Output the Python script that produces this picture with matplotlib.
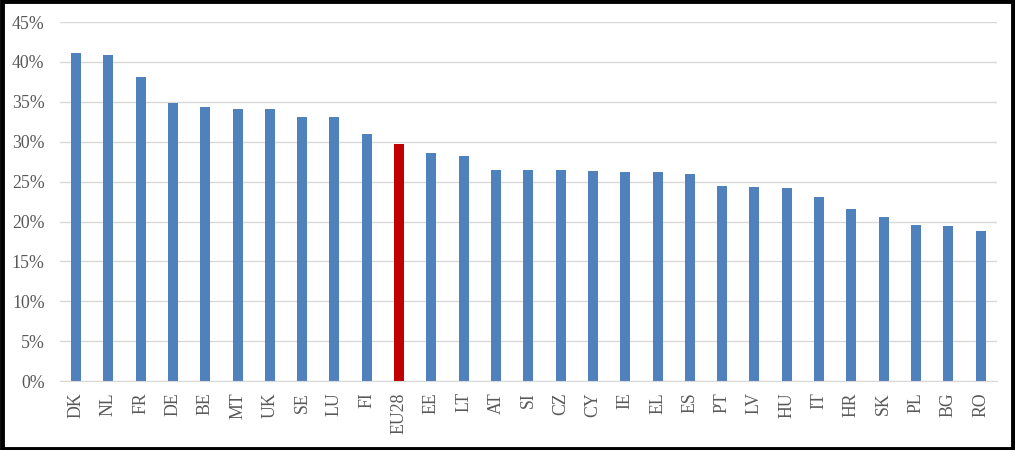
import numpy as np
import matplotlib.pyplot as plt
from matplotlib.patches import Rectangle
from matplotlib.ticker import FuncFormatter

countries = ['DK', 'NL', 'FR', 'DE', 'BE', 'MT', 'UK', 'SE', 'LU', 'FI', 'EU28',
             'EE', 'LT', 'AT', 'SI', 'CZ', 'CY', 'IE', 'EL', 'ES', 'PT', 'LV',
             'HU', 'IT', 'HR', 'SK', 'PL', 'BG', 'RO']
values = [41.1, 40.9, 38.1, 34.9, 34.3, 34.1, 34.1, 33.1, 33.1, 31.0, 29.7,
          28.6, 28.2, 26.4, 26.4, 26.4, 26.3, 26.2, 26.2, 25.9, 24.5, 24.3,
          24.2, 23.1, 21.6, 20.6, 19.6, 19.4, 18.8]

blue = '#4f81bd'
red = '#c00000'
txt = '#595959'

plt.rcParams['font.family'] = ['Liberation Serif', 'DejaVu Serif']

fig = plt.figure(figsize=(10.15, 4.5), dpi=100)
ax = fig.add_axes([0.059, 0.153, 0.923, 0.798])

x = np.arange(len(countries))
colors = [red if c == 'EU28' else blue for c in countries]
ax.bar(x, values, width=0.31, color=colors, zorder=3)

ax.set_xlim(-0.5, len(countries) - 0.5)
ax.set_ylim(0, 45)
ax.set_yticks(np.arange(0, 46, 5))
ax.yaxis.set_major_formatter(FuncFormatter(lambda v, p: '%d%%' % v))
ax.set_xticks(x)
ax.set_xticklabels(countries, rotation=90)
ax.tick_params(axis='y', length=0, pad=11, labelsize=12.8, labelcolor=txt)
ax.tick_params(axis='x', length=0, pad=8, labelsize=12.8, labelcolor=txt)
ax.grid(axis='y', color='#d9d9d9', linewidth=1, zorder=0)
for s in ['top', 'right', 'left']:
    ax.spines[s].set_visible(False)
ax.spines['bottom'].set_color('#d9d9d9')
ax.spines['bottom'].set_zorder(4)

fig.patches.append(Rectangle((0.0015, 0.003), 0.997, 0.994, transform=fig.transFigure,
                             fill=False, edgecolor='black', linewidth=3.5))

fig.savefig('out.png', dpi=100)
